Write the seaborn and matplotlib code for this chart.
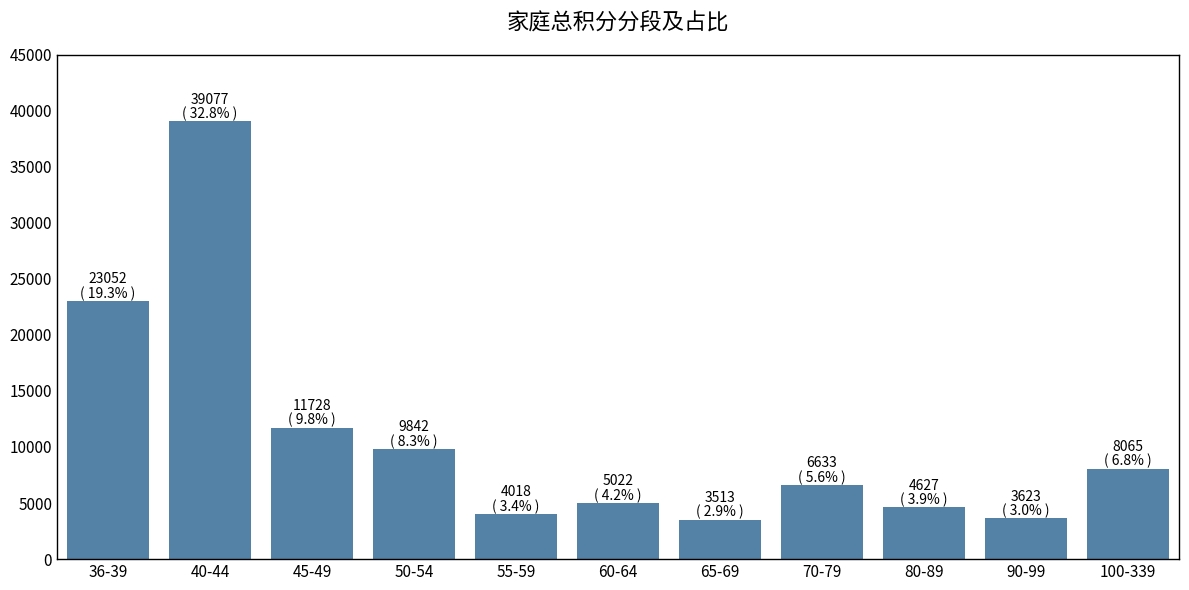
import pandas as pd
import numpy as np
import seaborn as sns
import matplotlib.pyplot as plt

sns.set_style('white')
plt.rcParams['font.family'] = ['Noto Sans CJK SC', 'DejaVu Sans']
plt.rcParams['text.color'] = 'black'
plt.rcParams['xtick.color'] = 'black'
plt.rcParams['ytick.color'] = 'black'

segments = ['36-39', '40-44', '45-49', '50-54', '55-59', '60-64',
            '65-69', '70-79', '80-89', '90-99', '100-339']
counts = [23052, 39077, 11728, 9842, 4018, 5022, 3513, 6633, 4627, 3623, 8065]

df = pd.DataFrame({'segment': segments, 'count': counts})
total = df['count'].sum()

fig, ax = plt.subplots(figsize=(11.89, 5.9), dpi=100)
sns.barplot(data=df, x='segment', y='count', color='steelblue', ax=ax,
            linewidth=0, edgecolor='none')

for i, c in enumerate(counts):
    ax.text(i, c, f'{c}\n( {c / total * 100:.1f}% )', ha='center', va='bottom',
            fontsize=10, linespacing=1.0, color='black')

ax.set_ylim(0, 45000)
ax.set_xlim(-0.5, len(segments) - 0.5)
ax.set_yticks(np.arange(0, 45001, 5000))
ax.set_xlabel('')
ax.set_ylabel('')
ax.tick_params(axis='both', labelsize=11, length=0, colors='black')
for s in ax.spines.values():
    s.set_color('black')
    s.set_linewidth(1)
ax.set_title('家庭总积分分段及占比', fontsize=16, pad=18, color='black')

plt.tight_layout()
plt.subplots_adjust(left=0.048, right=0.9916, bottom=0.0525, top=0.907)
plt.savefig('out.png', dpi=100)
